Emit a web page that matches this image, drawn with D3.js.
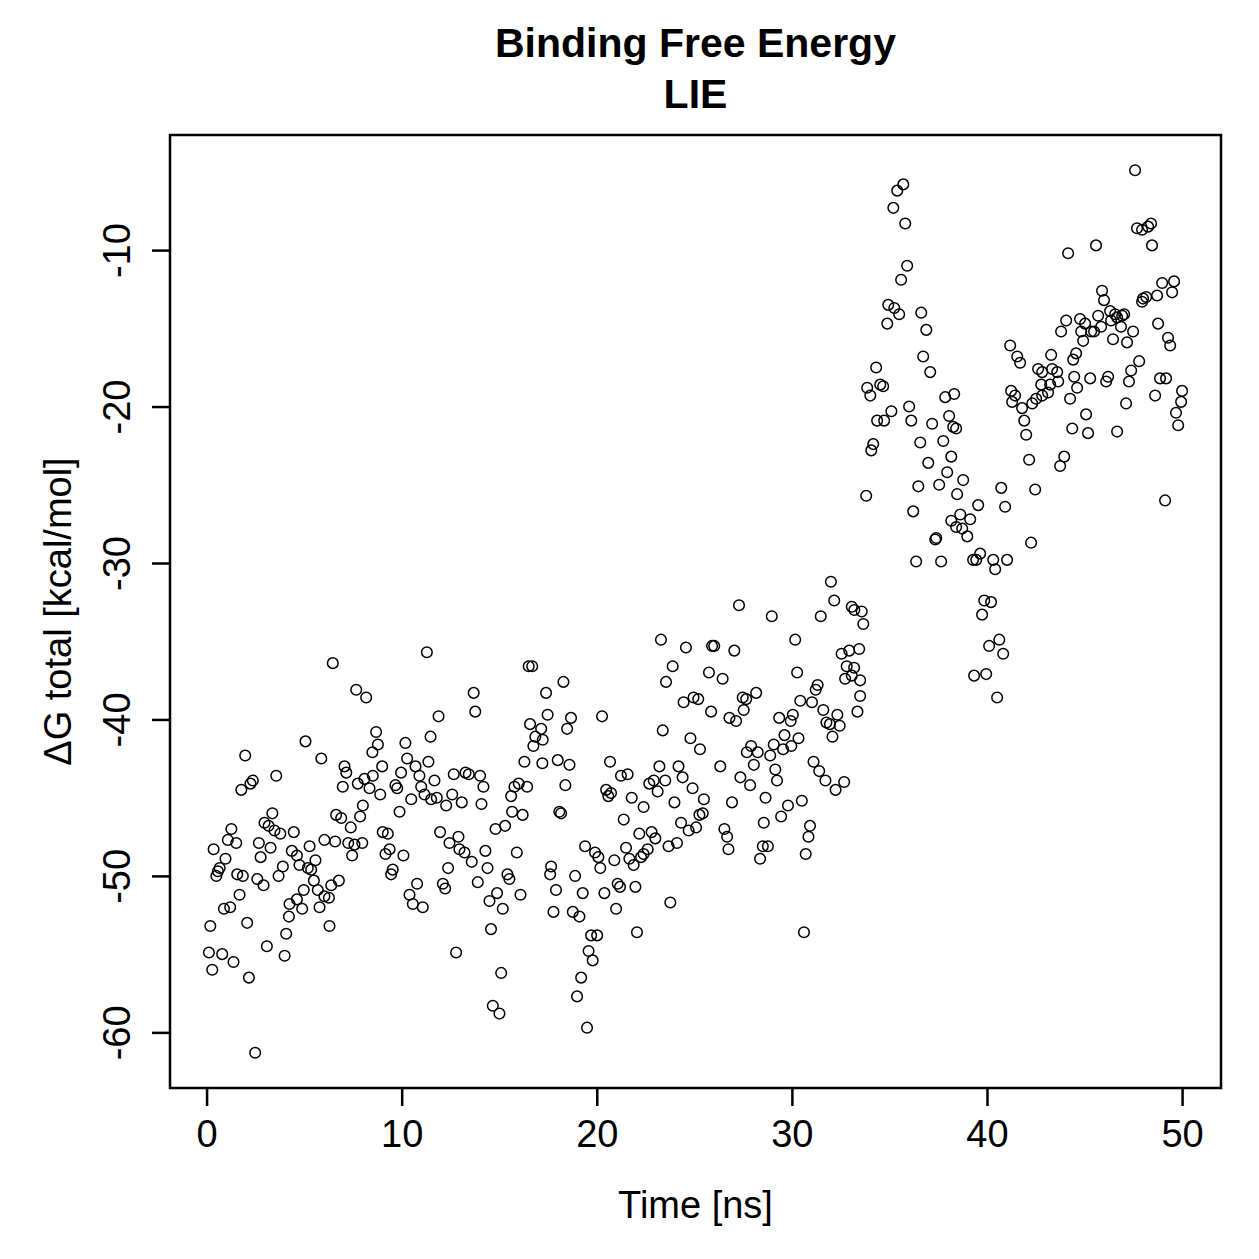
<!DOCTYPE html>
<html lang="en">
<head>
    <meta charset="UTF-8">
    <title>Binding Free Energy LIE</title>
    <script src="https://d3js.org/d3.v7.min.js"></script>
    <style>
        html, body {
            margin: 0;
            padding: 0;
            background: #fff;
        }
        svg text {
            font-family: "Liberation Sans", Arial, Helvetica, sans-serif;
            fill: #000;
        }
    </style>
</head>
<body>
<svg width="1259" height="1259"></svg>
<script>
// time [ns], dG total [kcal/mol], one array per 10 ns
const run0to10 = [
    [0.12,-54.9],[0.19,-53.2],[0.29,-56.0],[0.36,-48.3],[0.50,-50.0],[0.58,-49.7],[0.67,-49.5],[0.80,-55.0],
    [0.89,-52.1],[0.97,-48.9],[1.09,-47.7],[1.21,-52.0],[1.27,-47.0],[1.38,-55.5],[1.52,-47.9],[1.57,-49.9],
    [1.69,-51.2],[1.78,-44.5],[1.86,-50.0],[1.98,-42.3],[2.08,-53.0],[2.17,-56.5],[2.25,-44.1],[2.37,-43.9],
    [2.49,-61.3],[2.60,-50.2],[2.68,-47.9],[2.77,-48.8],[2.92,-50.6],[2.97,-46.6],[3.09,-54.5],[3.18,-46.8],
    [3.28,-48.2],[3.37,-46.0],[3.48,-47.1],[3.57,-43.6],[3.69,-50.0],[3.78,-47.3],[3.91,-49.4],[4.00,-55.1],
    [4.08,-53.7],[4.22,-52.6],[4.25,-51.8],[4.37,-48.4],[4.47,-47.2],[4.63,-48.7],[4.63,-51.5],[4.76,-49.3],
    [4.90,-52.1],[4.98,-50.9],[5.07,-41.4],[5.19,-49.5],[5.28,-48.1],[5.36,-49.6],[5.50,-50.3],[5.58,-49.0],
    [5.70,-50.9],[5.79,-52.0],[5.88,-42.5],[6.04,-47.7],[6.04,-51.3],[6.27,-51.4],[6.30,-53.2],[6.39,-50.6],
    [6.47,-36.4],[6.59,-47.8],[6.64,-46.1],[6.78,-50.3],[6.90,-46.3],[6.98,-44.3],[7.07,-43.0],[7.16,-43.4],
    [7.26,-47.9],[7.39,-46.9],[7.46,-48.7],[7.58,-48.0],[7.67,-38.1],[7.75,-44.1],[7.87,-46.2],[7.98,-47.9],
    [8.01,-45.5],[8.09,-43.8],[8.18,-38.6],[8.35,-44.4],[8.50,-42.1],[8.52,-43.6],[8.69,-40.8],[8.78,-41.6],
    [8.90,-44.8],[9.00,-43.0],[9.03,-47.2],[9.17,-48.6],[9.29,-47.3],[9.38,-48.3],[9.46,-49.9],[9.54,-49.6],
    [9.68,-44.2],[9.77,-44.4],[9.89,-45.9],[9.97,-43.4]
];
const run10to20 = [
    [10.09,-48.7],[10.19,-41.5],[10.28,-42.5],[10.40,-51.2],[10.49,-45.1],[10.57,-51.8],[10.71,-43.0],[10.79,-50.5],
    [10.91,-43.6],[11.00,-44.3],[11.08,-52.0],[11.17,-44.8],[11.29,-35.7],[11.37,-42.7],[11.48,-41.1],[11.51,-45.1],
    [11.68,-43.9],[11.80,-45.0],[11.89,-39.8],[11.97,-47.2],[12.11,-50.5],[12.23,-50.8],[12.28,-45.5],[12.38,-49.5],
    [12.45,-47.9],[12.59,-44.8],[12.67,-43.5],[12.79,-54.9],[12.91,-47.5],[12.96,-48.3],[13.08,-45.3],[13.22,-48.5],
    [13.27,-43.4],[13.44,-43.5],[13.59,-49.1],[13.69,-38.3],[13.77,-39.5],[13.90,-50.4],[14.02,-43.6],[14.09,-45.4],
    [14.19,-44.3],[14.29,-48.4],[14.40,-49.5],[14.50,-51.6],[14.58,-53.4],[14.67,-58.3],[14.81,-47.0],[14.89,-51.1],
    [15.01,-58.8],[15.10,-56.2],[15.18,-52.1],[15.30,-46.8],[15.42,-49.9],[15.52,-50.2],[15.61,-44.9],[15.66,-45.9],
    [15.78,-44.3],[15.90,-48.5],[16.00,-44.1],[16.09,-51.2],[16.20,-46.1],[16.29,-42.7],[16.43,-44.3],[16.51,-36.6],
    [16.58,-40.3],[16.69,-36.6],[16.75,-41.7],[16.85,-41.1],[17.15,-40.6],[17.21,-42.8],[17.23,-41.3],[17.40,-38.3],
    [17.48,-39.7],[17.61,-49.9],[17.66,-49.4],[17.78,-52.3],[17.91,-50.9],[18.00,-42.6],[18.08,-45.9],[18.17,-46.0],
    [18.29,-37.6],[18.39,-44.2],[18.48,-40.6],[18.60,-42.9],[18.68,-39.9],[18.77,-52.3],[18.89,-50.0],[18.99,-57.7],
    [19.11,-52.6],[19.20,-56.5],[19.28,-51.1],[19.40,-48.1],[19.50,-59.7],[19.58,-54.8],[19.71,-53.8],[19.79,-55.4],
    [19.91,-48.5]
];
const run20to30 = [
    [20.02,-53.8],[20.08,-48.8],[20.18,-49.5],[20.27,-39.8],[20.39,-51.1],[20.48,-44.5],[20.59,-44.9],[20.68,-42.7],
    [20.73,-44.7],[20.90,-49.0],[20.99,-52.1],[21.07,-50.5],[21.19,-50.7],[21.24,-43.6],[21.38,-46.4],[21.50,-48.2],
    [21.58,-43.5],[21.67,-48.9],[21.79,-45.0],[21.89,-49.3],[21.98,-50.7],[22.06,-53.6],[22.18,-47.3],[22.27,-48.8],
    [22.40,-45.6],[22.40,-48.6],[22.61,-48.3],[22.69,-44.1],[22.81,-47.2],[22.92,-43.9],[23.00,-47.6],[23.12,-44.6],
    [23.21,-43.0],[23.29,-34.9],[23.38,-40.7],[23.51,-43.9],[23.55,-37.6],[23.68,-48.1],[23.77,-51.7],[23.89,-36.6],
    [23.98,-45.3],[24.11,-47.9],[24.19,-43.0],[24.32,-46.6],[24.40,-43.7],[24.45,-38.9],[24.57,-35.4],[24.71,-47.1],
    [24.80,-41.2],[24.91,-44.4],[24.96,-38.6],[25.09,-46.9],[25.20,-38.7],[25.26,-46.1],[25.29,-41.9],[25.43,-46.0],
    [25.49,-45.1],[25.75,-37.0],[25.86,-39.5],[25.91,-35.3],[26.02,-35.3],[26.33,-43.0],[26.45,-37.4],[26.54,-47.0],
    [26.68,-47.5],[26.75,-48.3],[26.80,-39.9],[26.93,-45.3],[27.05,-35.6],[27.14,-40.1],[27.29,-32.7],[27.36,-43.7],
    [27.48,-38.6],[27.53,-39.4],[27.66,-38.7],[27.69,-42.1],[27.86,-44.2],[27.91,-41.7],[28.05,-42.9],[28.17,-38.3],
    [28.25,-42.1],[28.37,-48.9],[28.51,-48.1],[28.56,-46.6],[28.65,-45.0],[28.77,-48.1],[28.89,-42.3],[28.97,-33.4],
    [29.07,-41.6],[29.15,-43.2],[29.24,-43.9],[29.35,-39.9],[29.45,-46.2],[29.55,-41.9],[29.62,-41.0],[29.80,-45.5],
    [29.94,-40.1],[29.97,-41.7]
];
const run30to40 = [
    [30.05,-39.7],[30.17,-34.9],[30.27,-37.0],[30.34,-41.2],[30.43,-38.8],[30.51,-45.2],[30.62,-53.6],[30.71,-48.6],
    [30.85,-47.5],[30.93,-46.8],[31.03,-38.9],[31.11,-42.7],[31.22,-38.1],[31.32,-37.8],[31.40,-43.3],[31.48,-33.4],
    [31.61,-39.4],[31.72,-43.9],[31.77,-40.2],[31.95,-40.3],[32.00,-31.2],[32.08,-41.1],[32.17,-32.4],[32.24,-44.5],
    [32.33,-39.7],[32.45,-40.4],[32.55,-35.8],[32.68,-44.0],[32.73,-37.4],[32.81,-36.6],[32.94,-35.6],[33.07,-37.2],
    [33.07,-32.8],[33.19,-36.7],[33.20,-33.0],[33.36,-39.5],[33.45,-35.5],[33.50,-37.5],[33.50,-38.5],[33.58,-33.1],
    [33.66,-33.9],[33.81,-25.7],[33.86,-18.8],[34.02,-19.3],[34.07,-22.8],[34.17,-22.4],[34.32,-17.5],[34.37,-20.9],
    [34.53,-18.6],[34.68,-18.7],[34.73,-20.9],[34.89,-14.7],[34.94,-13.5],[35.10,-20.3],[35.20,-7.3],[35.25,-13.7],
    [35.40,-6.2],[35.50,-14.1],[35.60,-11.9],[35.71,-5.8],[35.81,-8.3],[35.91,-11.0],[36.01,-20.0],[36.12,-20.9],
    [36.22,-26.7],[36.37,-29.9],[36.48,-25.1],[36.58,-22.3],[36.63,-14.0],[36.73,-16.8],[36.89,-15.1],[36.99,-23.6],
    [37.09,-17.8],[37.19,-21.1],[37.35,-28.5],[37.40,-28.4],[37.55,-25.0],[37.65,-29.9],[37.76,-22.2],[37.86,-19.4],
    [37.96,-24.2],[38.06,-20.6],[38.17,-23.2],[38.17,-27.3],[38.27,-21.3],[38.32,-19.2],[38.42,-21.4],[38.42,-27.7],
    [38.47,-25.6],[38.63,-26.9],[38.73,-27.8],[38.78,-24.7],[38.99,-28.3],[39.14,-27.2],[39.29,-29.8],[39.34,-37.2],
    [39.45,-29.8],[39.55,-26.3],[39.65,-29.4],[39.75,-33.3],[39.86,-32.4],[39.96,-37.1]
];
const run40to50 = [
    [40.11,-35.3],[40.21,-32.5],[40.32,-29.8],[40.42,-30.4],[40.52,-38.6],[40.63,-34.9],[40.73,-25.2],[40.83,-35.8],
    [40.93,-26.4],[41.03,-29.8],[41.19,-16.1],[41.24,-19.0],[41.29,-19.7],[41.44,-19.3],[41.55,-16.8],[41.70,-17.2],
    [41.80,-20.1],[41.91,-20.9],[42.01,-21.8],[42.16,-23.4],[42.26,-28.7],[42.32,-19.8],[42.47,-25.3],[42.52,-19.5],
    [42.62,-17.6],[42.78,-18.6],[42.83,-17.8],[42.83,-19.3],[43.13,-19.1],[43.24,-18.6],[43.29,-16.7],[43.34,-17.6],
    [43.60,-17.8],[43.65,-18.4],[43.75,-23.8],[43.80,-15.2],[43.96,-23.2],[44.06,-14.5],[44.16,-10.2],[44.26,-19.5],
    [44.37,-21.4],[44.42,-17.0],[44.47,-18.1],[44.57,-16.6],[44.62,-18.8],[44.77,-14.4],[44.83,-15.2],[44.93,-15.8],
    [45.03,-14.7],[45.08,-20.5],[45.18,-21.7],[45.29,-18.2],[45.34,-15.2],[45.49,-15.2],[45.59,-9.7],[45.70,-14.2],
    [45.85,-14.9],[45.90,-12.6],[46.00,-13.2],[46.11,-18.4],[46.21,-18.1],[46.31,-13.9],[46.36,-14.5],[46.46,-15.7],
    [46.57,-14.1],[46.67,-14.3],[46.67,-21.6],[46.87,-14.9],[46.93,-14.2],[47.03,-14.1],[47.13,-19.8],[47.18,-15.9],
    [47.28,-18.4],[47.39,-17.7],[47.49,-15.2],[47.59,-4.9],[47.69,-8.6],[47.80,-17.1],[47.95,-8.7],[47.95,-13.3],
    [48.00,-13.1],[48.16,-13.0],[48.26,-8.5],[48.41,-8.3],[48.46,-9.7],[48.62,-19.3],[48.72,-12.9],[48.77,-14.7],
    [48.87,-18.2],[48.98,-12.1],[49.13,-26.0],[49.18,-18.2],[49.28,-15.6],[49.39,-16.1],[49.49,-12.7],[49.59,-12.0],
    [49.69,-20.4],[49.80,-21.2],[49.95,-19.7],[50.00,-19.0]
];

const xTicks = [0, 10, 20, 30, 40, 50];
const yTicks = [-10, -20, -30, -40, -50, -60];
const titleLines = ["Binding Free Energy", "LIE"];
const xLabel = "Time [ns]";
const yLabel = "\u0394G total [kcal/mol]";

const points = [].concat(run0to10, run10to20, run20to30, run30to40, run40to50);

const svg = d3.select("svg");
const box = {left: 170, right: 1221, top: 135, bottom: 1088};

// R style 4% padding around the data range
function padded(ext) {
    const p = (ext[1] - ext[0]) * 0.04;
    return [ext[0] - p, ext[1] + p];
}

const x = d3.scaleLinear()
    .domain(padded(d3.extent(points, d => d[0])))
    .range([box.left, box.right]);

const y = d3.scaleLinear()
    .domain(padded(d3.extent(points, d => d[1])))
    .range([box.bottom, box.top]);

// plain hyphen minus, like R
const plain = d => String(d);

// points
svg.append("g")
    .selectAll("circle")
    .data(points)
    .enter().append("circle")
    .attr("cx", d => x(d[0]))
    .attr("cy", d => y(d[1]))
    .attr("r", 5.3)
    .attr("fill", "none")
    .attr("stroke", "#000")
    .attr("stroke-width", 1.5);

// frame
svg.append("rect")
    .attr("x", box.left)
    .attr("y", box.top)
    .attr("width", box.right - box.left)
    .attr("height", box.bottom - box.top)
    .attr("fill", "none")
    .attr("stroke", "#000")
    .attr("stroke-width", 2.5);

// x axis
const xAxis = svg.append("g")
    .attr("transform", `translate(0,${box.bottom})`)
    .call(d3.axisBottom(x).tickValues(xTicks).tickSize(18).tickPadding(14).tickFormat(plain));
xAxis.select(".domain").remove();
xAxis.selectAll(".tick line").attr("stroke-width", 2.5);
xAxis.selectAll(".tick text")
    .attr("font-size", 38)
    .attr("font-family", "Liberation Sans, Arial, sans-serif");

// y axis, labels turned like R's default
const yAxis = svg.append("g")
    .attr("transform", `translate(${box.left},0)`)
    .call(d3.axisLeft(y).tickValues(yTicks).tickSize(18).tickFormat(plain));
yAxis.select(".domain").remove();
yAxis.selectAll(".tick line").attr("stroke-width", 2.5);
yAxis.selectAll(".tick text")
    .attr("font-size", 38)
    .attr("font-family", "Liberation Sans, Arial, sans-serif")
    .attr("x", null)
    .attr("dy", null)
    .attr("text-anchor", "middle")
    .attr("transform", "translate(-40,0) rotate(-90)");

// titles
svg.selectAll(".title")
    .data(titleLines)
    .enter().append("text")
    .attr("class", "title")
    .attr("x", (box.left + box.right) / 2)
    .attr("y", (d, i) => 57 + i * 51)
    .attr("text-anchor", "middle")
    .attr("font-size", 41)
    .attr("font-weight", "bold")
    .text(d => d);

svg.append("text")
    .attr("x", (box.left + box.right) / 2)
    .attr("y", 1218)
    .attr("text-anchor", "middle")
    .attr("font-size", 38)
    .text(xLabel);

svg.append("text")
    .attr("transform", `translate(71,${(box.top + box.bottom) / 2}) rotate(-90)`)
    .attr("text-anchor", "middle")
    .attr("font-size", 38)
    .text(yLabel);
</script>
</body>
</html>
